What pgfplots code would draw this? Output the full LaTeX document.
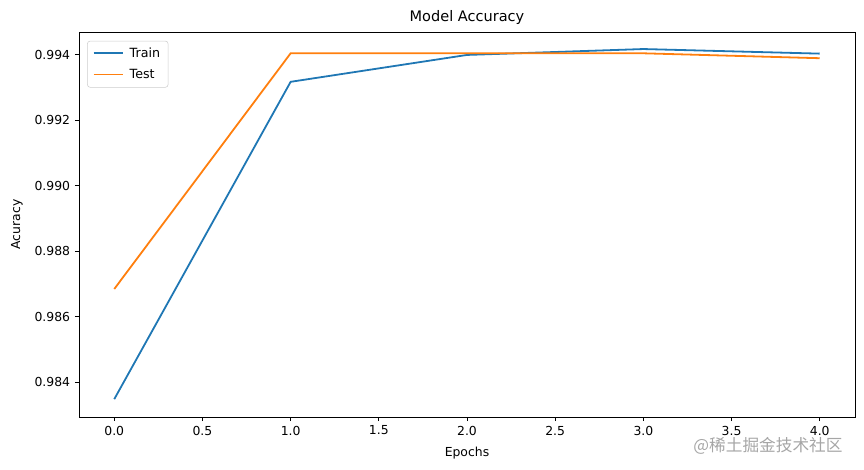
\documentclass[border=0pt]{standalone}
\usepackage{pgfplots}
\pgfplotsset{compat=1.18}
\usepackage{fontspec}
\setmainfont{DejaVu Sans}
\newfontfamily\cjk{Noto Sans CJK SC}
\definecolor{tabblue}{HTML}{1F77B4}
\definecolor{taborange}{HTML}{FF7F0E}
\begin{document}
\begin{tikzpicture}
\begin{axis}[
  scale only axis,
  width=582pt, height=288.75pt,
  xmin=-0.2, xmax=4.2,
  ymin=0.982945, ymax=0.99469,
  xtick={0,0.5,1,1.5,2,2.5,3,3.5,4},
  ytick={0.984,0.986,0.988,0.990,0.992,0.994},
  xticklabel style={/pgf/number format/.cd,fixed,fixed zerofill,precision=1},
  yticklabel style={/pgf/number format/.cd,fixed,fixed zerofill,precision=3},
  scaled y ticks=false,
  /pgf/number format/assume math mode=true,
  tick align=outside,
  major tick length=3.15pt,
  tick style={black, line width=0.6pt},
  axis line style={line width=0.6pt},
  xtick pos=bottom, ytick pos=left,
  tick label style={font=\fontsize{9.3}{10}\selectfont},
  label style={font=\fontsize{9.3}{10}\selectfont},
  every axis title shift=0pt,
  title style={font=\fontsize{10.9}{12}\selectfont, at={(axis description cs:0.5,1.0364)}, anchor=center},
  title={Model Accuracy},
  xlabel={Epochs},
  ylabel={Acuracy},
  xlabel style={at={(axis description cs:0.5,-0.0935)}, anchor=center},
  ylabel style={at={(axis description cs:-0.0799,0.5)}, anchor=center},
  legend style={font=\fontsize{9.5}{10}\selectfont, draw=black!20, rounded corners=2pt, at={(0.0105,0.977)}, anchor=north west, inner xsep=4pt, inner ysep=3pt, row sep=3.5pt,
    /tikz/every odd column/.append style={column sep=2.5pt}},
  legend cell align=left,
  legend image code/.code={\draw[#1, line width=1.45pt] (0cm,0.4pt) -- (21.75pt,0.4pt);},
]
\addplot[color=tabblue, line width=1.35pt] coordinates {
  (0,0.98349) (1,0.99317) (2,0.99399) (3,0.99417) (4,0.99403)
};
\addlegendentry{Train}
\addplot[color=taborange, line width=1.35pt] coordinates {
  (0,0.98685) (1,0.99404) (2,0.99404) (3,0.99404) (4,0.99389)
};
\addlegendentry{Test}
\end{axis}
\node[anchor=center, text=black!35, font=\cjk\fontsize{12.5}{14}\selectfont] at ([xshift=-65.25pt,yshift=-21.5pt]current axis.south east) {@稀土掘金技术社区};
\path ([xshift=-59.25pt,yshift=-39.75pt]current axis.south west) rectangle ([xshift=6.75pt,yshift=24pt]current axis.north east);
\end{tikzpicture}
\end{document}
